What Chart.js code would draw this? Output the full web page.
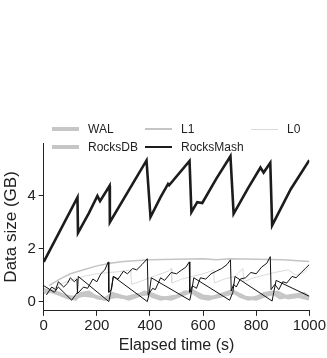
<!DOCTYPE html>
<html>
<head>
<meta charset="utf-8">
<script src="https://cdn.jsdelivr.net/npm/chart.js@4"></script>
<style>
  html, body { margin: 0; padding: 0; background: #fff; }
  #wrap { position: relative; width: 327px; height: 358px; font-family: "Liberation Sans", Arial, sans-serif; }
  #legend { position: absolute; left: 52px; top: 121px; display: grid; grid-template-columns: 93px 106px auto; row-gap: 2px; font-size: 12px; color: #222; }
  #legend .item { display: flex; align-items: center; height: 16px; white-space: nowrap; }
  #legend .swatch { display: inline-block; width: 27px; margin-right: 9px; }
</style>
</head>
<body>
<div id="wrap">
  <canvas id="chart" width="327" height="358"></canvas>
  <div id="legend"></div>
</div>
<script>
// RocksMash total size
const meshT = [0, 127, 129, 170, 202, 212, 248, 249, 387, 402, 440, 468, 472, 549, 556, 578, 597, 650, 703, 715, 770, 816, 828, 853, 860, 930, 1000];
const meshY = [1.5, 3.94, 2.6, 3.35, 4.0, 3.8, 4.38, 3.0, 5.34, 3.2, 3.95, 4.45, 4.4, 5.32, 3.38, 3.76, 3.73, 4.65, 5.5, 3.32, 4.3, 5.07, 4.88, 5.25, 2.88, 4.25, 5.35];

// thin black lines (no legend entry)
const mashAT = [10, 30, 45, 55, 75, 90, 100, 115, 125, 127, 150, 165, 185, 200, 215, 230, 243, 245, 255, 262, 280, 300, 315, 335, 350, 370, 390, 393, 410, 420, 440, 455, 480, 500, 520, 535, 548, 550, 560, 575, 590, 610, 630, 650, 670, 690, 703, 706, 715, 725, 740, 760, 780, 800, 820, 840, 853, 856, 870, 885, 900, 915, 935, 950, 970, 985, 1000];
const mashAY = [0.25, 0.55, 0.45, 0.75, 0.55, 0.7, 0.9, 0.75, 0.85, 0.3, 0.55, 0.5, 0.85, 0.75, 1.05, 1.2, 1.5, 0.35, 0.45, 0.95, 0.85, 1.15, 1.05, 1.25, 1.2, 1.4, 1.62, 0.25, 0.5, 0.45, 0.9, 0.8, 1.1, 1.05, 1.2, 1.3, 1.5, 0.35, 0.6, 0.5, 0.9, 0.85, 1.05, 1.15, 1.25, 1.4, 1.58, 0.4, 0.65, 0.55, 0.85, 0.9, 1.1, 1.05, 1.3, 1.45, 1.7, 0.45, 0.65, 0.45, 0.75, 0.7, 0.95, 0.9, 1.1, 1.25, 1.4];
const mashBT = [0, 40, 55, 80, 105, 127, 130, 245, 252, 262, 390, 397, 405, 550, 556, 565, 700, 712, 720, 860, 866, 875, 1000];
const mashBY = [0.6, 0.35, 0.55, 0.3, 0.05, 0.35, 0.95, 0.0, 0.35, 0.95, 0.0, 0.3, 0.9, 0.05, 0.35, 0.9, 0.05, 0.35, 0.95, 0.02, 0.35, 0.8, 0.2];

// gray series
const walT = [0, 30, 60, 90, 120, 140, 170, 200, 230, 260, 290, 320, 350, 380, 410, 440, 470, 500, 530, 560, 590, 620, 650, 680, 710, 740, 770, 800, 830, 860, 890, 920, 950, 980, 1000];
const walY = [0.35, 0.4, 0.3, 0.15, 0.1, 0.3, 0.35, 0.15, 0.1, 0.3, 0.2, 0.1, 0.2, 0.35, 0.2, 0.1, 0.15, 0.2, 0.35, 0.35, 0.15, 0.1, 0.2, 0.3, 0.4, 0.2, 0.1, 0.15, 0.3, 0.35, 0.15, 0.2, 0.25, 0.3, 0.15];
const dbT = [0, 40, 80, 110, 150, 190, 230, 270, 310, 350, 400, 440, 480, 520, 560, 600, 640, 680, 720, 760, 800, 840, 880, 920, 960, 1000];
const dbY = [0.45, 0.35, 0.2, 0.15, 0.25, 0.2, 0.1, 0.2, 0.15, 0.25, 0.3, 0.15, 0.1, 0.25, 0.4, 0.2, 0.15, 0.25, 0.35, 0.15, 0.1, 0.25, 0.35, 0.15, 0.2, 0.1];
const l1T = [20, 60, 100, 150, 200, 250, 300, 400, 500, 600, 650, 700, 800, 900, 1000];
const l1Y = [0.6, 0.85, 1.05, 1.2, 1.35, 1.45, 1.52, 1.58, 1.6, 1.62, 1.58, 1.62, 1.6, 1.58, 1.52];
const l0T = [30, 60, 100, 150, 200, 250, 300, 328, 330, 360, 400, 440, 470, 480, 482, 520, 560, 600, 630, 640, 642, 680, 720, 750, 752, 790, 830, 870, 920, 950, 980, 1000];
const l0Y = [0.45, 0.65, 0.8, 0.95, 1.05, 1.1, 1.15, 1.2, 0.65, 0.75, 0.9, 1.05, 1.15, 1.25, 0.7, 0.85, 0.95, 1.05, 1.15, 1.2, 0.7, 0.85, 0.95, 1.25, 0.75, 0.9, 1.0, 1.1, 1.2, 1.0, 1.1, 1.3];

const yTicks = [0, 2, 4];

function pts(ts, ys) {
    return ts.map((t, i) => ({ x: t, y: ys[i] }));
}

const datasets = [
    { label: 'RocksMash', data: pts(meshT, meshY), borderColor: '#1c1c1c', borderWidth: 2.6, order: 0 },
    { label: '', data: pts(mashAT, mashAY), borderColor: '#111', borderWidth: 1, order: 1 },
    { label: '', data: pts(mashBT, mashBY), borderColor: '#111', borderWidth: 1, order: 2 },
    { label: 'L1', data: pts(l1T, l1Y), borderColor: '#c4c4c4', borderWidth: 1.5, order: 3 },
    { label: 'L0', data: pts(l0T, l0Y), borderColor: '#dadada', borderWidth: 1, order: 4 },
    { label: 'WAL', data: pts(walT, walY), borderColor: '#c6c6c6', borderWidth: 3.5, order: 5 },
    { label: 'RocksDB', data: pts(dbT, dbY), borderColor: '#c6c6c6', borderWidth: 3.5, order: 6 }
];
datasets.forEach(d => { d.pointRadius = 0; d.tension = 0; d.fill = false; });

const fontFamily = '"Liberation Sans", Arial, sans-serif';

const chart = new Chart(document.getElementById('chart'), {
    type: 'line',
    data: { datasets: datasets },
    options: {
        responsive: false,
        animation: false,
        layout: { padding: { top: 143, left: 1, right: 14, bottom: 3 } },
        plugins: { legend: { display: false }, tooltip: { enabled: false } },
        scales: {
            x: {
                type: 'linear',
                min: 0,
                max: 1000,
                ticks: { stepSize: 200, color: '#222', font: { family: fontFamily, size: 15 }, padding: 1, maxRotation: 0, callback: v => String(v) },
                grid: { drawOnChartArea: false, tickLength: 5, color: '#222' },
                border: { color: '#222', width: 1 },
                title: { display: true, text: 'Elapsed time (s)', color: '#222', font: { family: fontFamily, size: 16 }, padding: { top: 0, bottom: 0 } }
            },
            y: {
                min: -0.35,
                max: 6,
                afterBuildTicks: axis => { axis.ticks = yTicks.map(v => ({ value: v })); },
                ticks: { color: '#222', font: { family: fontFamily, size: 15 }, padding: 3 },
                grid: { drawOnChartArea: false, tickLength: 5, color: '#222' },
                border: { color: '#222', width: 1 },
                title: { display: true, text: 'Data size (GB)', color: '#222', font: { family: fontFamily, size: 17 }, padding: { top: 0, bottom: 3 } }
            }
        }
    }
});

// legend in three columns, order as in the figure
const legendOrder = ['WAL', 'L1', 'L0', 'RocksDB', 'RocksMash'];
const legendEl = document.getElementById('legend');
legendOrder.forEach(name => {
    const ds = datasets.find(d => d.label === name);
    const item = document.createElement('div');
    item.className = 'item';
    item.innerHTML = `<span class="swatch" style="height:${ds.borderWidth}px;background:${ds.borderColor}"></span>${name}`;
    legendEl.appendChild(item);
});
</script>
</body>
</html>
